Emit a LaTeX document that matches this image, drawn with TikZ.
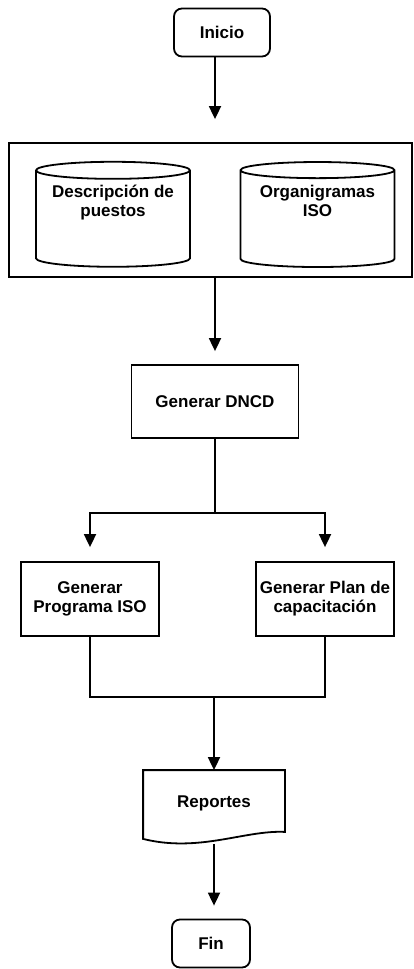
\documentclass[tikz,border=0pt]{standalone}
\usepackage{fontspec}
\setmainfont{Liberation Sans}
\usetikzlibrary{arrows.meta,shapes.geometric}

\begin{document}
\begin{tikzpicture}[x=1pt,y=-1pt,>={Triangle[width=12pt,length=13pt]},
 line width=1.8pt,font=\fontsize{17}{19}\selectfont\bfseries,
 every node/.style={align=center,inner sep=0pt},
 caja/.style={draw,rectangle,minimum width=138pt,minimum height=74pt},
 terminal/.style={draw,rectangle,rounded corners=8pt,minimum height=48pt},
 base/.style={draw,cylinder,shape border rotate=90,aspect=0.14,
   minimum width=154pt,minimum height=105pt,text depth=36pt}]
\useasboundingbox (0,0) rectangle (413,969);
\coordinate (eje) at (215,0);
\node[terminal,minimum width=96pt] (inicio) at (222,32.5) {Inicio};
\node[draw,minimum width=403pt,minimum height=134pt] (marco) at (210.5,210) {};
\node[base] (desc) at (113,219) {Descripción de\\puestos};
\node[base] (orga) at (317.5,219) {Organigramas\\ISO};
\node[caja,minimum width=167pt,minimum height=73pt] (dncd) at (215,401.5) {Generar DNCD};
\node[caja] (prog) at (90,599) {Generar\\Programa ISO};
\node[caja] (plan) at (325,599) {Generar Plan de\\capacitación};
\node[minimum width=140pt,minimum height=64pt] (rep) at (214,803) {Reportes};
\draw (rep.north west) -- (rep.north east) -- ([shift={(0,-4)}]rep.south east)
  .. controls +(-40,-2) and +(56,14) .. ([shift={(0,3)}]rep.south west) -- cycle;
\node[terminal,minimum width=78pt] (fin) at (211,943.5) {Fin};
\coordinate (rama) at ([shift={(0,74)}]dncd.south);
\coordinate (union) at (214,697);
% conectores
\draw[->,shorten >=23pt] (inicio.south -| eje) -- (marco.north -| eje);
\draw[->,shorten >=13pt] (marco.south -| eje) -- (dncd.north -| eje);
\draw (dncd.south) -- (rama);
\draw[->,shorten >=14pt] (rama) -| (prog.north);
\draw[->,shorten >=14pt] (rama) -| (plan.north);
\draw (prog.south) |- (union) -| (plan.south);
\draw[->] (union) -- (rep.north);
\draw[->,shorten <=8pt,shorten >=13pt] (rep.south) -- (rep.south |- fin.north);
\end{tikzpicture}
\end{document}
